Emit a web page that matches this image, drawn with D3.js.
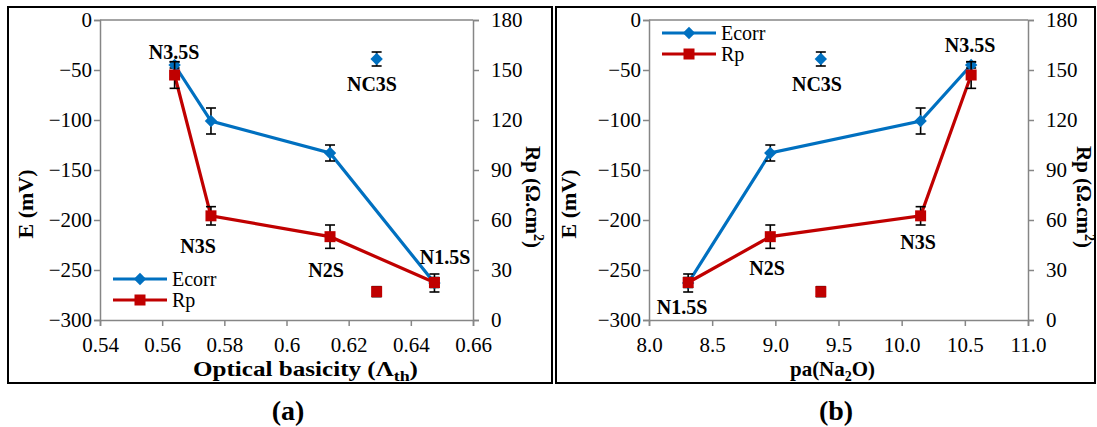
<!DOCTYPE html>
<html>
<head>
<meta charset="utf-8">
<script src="https://cdn.jsdelivr.net/npm/d3@7"></script>
<style>
  body { margin: 0; background: #fff; }
  svg text { font-family: 'Liberation Serif', serif; }
  .axis path, .axis line { stroke: #868686; stroke-width: 1.5; }
  .axis text { fill: #000; font-size: 21px; }
  .axis_label { font-size: 21px; font-weight: bold; }
  .pt_label { font-size: 20px; font-weight: bold; }
</style>
</head>
<body>
<div id="chart"></div>
<script>
// ---- data ----
var samples = ["N1.5S", "N2S", "N3S", "N3.5S"];
var basicity = [0.6476, 0.614, 0.5757, 0.564];      // optical basicity (panel a)
var paNa2O = [8.31, 8.96, 10.15, 10.55];              // pa(Na2O) (panel b)
var ecorr = [-263, -133, -101, -45];
var ecorrErr = [9, 8, 13, 3];
var rp = [22.5, 50, 62.5, 147];
var rpErr = [3, 7, 5.5, 8];

// NC3S, drawn as lone points
var nc3sBasicity = 0.629;
var nc3sPa = 9.36;
var nc3sEcorr = -39;
var nc3sEcorrErr = 7;
var nc3sRp = 17;
var nc3sRpErr = 3;

var leftTicks = [0, -50, -100, -150, -200, -250, -300];
var rightTicks = [0, 30, 60, 90, 120, 150, 180];
var basicityTicks = [0.54, 0.56, 0.58, 0.6, 0.62, 0.64, 0.66];
var paTicks = [8.0, 8.5, 9.0, 9.5, 10.0, 10.5, 11.0];

var blue = "#0070C0";
var red = "#C00000";
var serif = "'Liberation Serif', serif";

var svg = d3.select("#chart")
    .append("svg")
        .attr("width", 1097)
        .attr("height", 427)
        .attr("font-family", serif);

function drawPanel(opt){
    var g = svg.append("g");

    // panel frame
    g.append("rect")
        .attr("x", opt.frame[0]).attr("y", 7)
        .attr("width", opt.frame[1] - opt.frame[0]).attr("height", 376)
        .attr("fill", "none").attr("stroke", "#000").attr("stroke-width", 2);

    var x = d3.scaleLinear().domain(opt.xDomain).range([opt.left, opt.right]);
    var yE = d3.scaleLinear().domain([-300, 0]).range([320, 20]);
    var yR = d3.scaleLinear().domain([0, 180]).range([320, 20]);

    // top border of plot area
    g.append("line")
        .attr("x1", opt.left).attr("x2", opt.right)
        .attr("y1", 20).attr("y2", 20)
        .attr("stroke", "#868686").attr("stroke-width", 1.5);

    g.append("g")
        .attr("class", "axis")
        .attr("transform", "translate(0,320)")
        .call(d3.axisBottom(x).tickValues(opt.xTicks).tickSize(6).tickPadding(11).tickFormat(opt.xFormat));

    g.append("g")
        .attr("class", "axis")
        .attr("transform", "translate(" + opt.left + ",0)")
        .call(d3.axisLeft(yE).tickValues(leftTicks).tickSize(6).tickPadding(2).tickFormat(d3.format("d")));

    g.append("g")
        .attr("class", "axis")
        .attr("transform", "translate(" + opt.right + ",0)")
        .call(d3.axisRight(yR).tickValues(rightTicks).tickSize(6).tickPadding(12).tickFormat(d3.format("d")));

    // d3 puts sans-serif on axis groups; use the serif face instead
    g.selectAll(".axis").attr("font-family", serif).attr("font-size", 21);
    g.selectAll(".axis text").style("font-family", serif);

    var pts = samples.map(function(s, i){
        return {name: s, x: opt.xs[i], e: ecorr[i], ee: ecorrErr[i], r: rp[i], re: rpErr[i]};
    }).sort(function(a, b){ return a.x - b.x; });

    var diamond = "M0,-6.2L6.2,0L0,6.2L-6.2,0Z";

    //////////// Ecorr ////////////
    var eline = d3.line()
        .x(function(d) { return x(d.x); })
        .y(function(d) { return yE(d.e); });
    g.append("path")
        .datum(pts)
        .attr("d", eline)
        .attr("fill", "none").attr("stroke", blue).attr("stroke-width", 3.2);

    var eAll = pts.map(function(d){ return {x: d.x, v: d.e, err: d.ee}; })
        .concat([{x: opt.ncX, v: nc3sEcorr, err: nc3sEcorrErr}]);
    errorBars(g, eAll, x, yE);
    g.selectAll(".emark")
        .data(eAll)
        .enter().append("path")
        .attr("d", diamond)
        .attr("transform", function(d){ return "translate(" + x(d.x) + "," + yE(d.v) + ")"; })
        .attr("fill", blue);

    //////////// Rp ////////////
    var rline = d3.line()
        .x(function(d) { return x(d.x); })
        .y(function(d) { return yR(d.r); });
    g.append("path")
        .datum(pts)
        .attr("d", rline)
        .attr("fill", "none").attr("stroke", red).attr("stroke-width", 3.2);

    var rAll = pts.map(function(d){ return {x: d.x, v: d.r, err: d.re}; })
        .concat([{x: opt.ncX, v: nc3sRp, err: nc3sRpErr}]);
    errorBars(g, rAll, x, yR);
    g.selectAll(".rmark")
        .data(rAll)
        .enter().append("rect")
        .attr("x", function(d){ return x(d.x) - 5.5; })
        .attr("y", function(d){ return yR(d.v) - 5.5; })
        .attr("width", 11).attr("height", 11)
        .attr("fill", red);

    //// point labels ////
    opt.labels.forEach(function(l){
        g.append("text")
            .attr("class", "pt_label")
            .attr("x", l[1]).attr("y", l[2])
            .attr("text-anchor", "middle")
            .style("font-family", serif)
            .text(l[0]);
    });

    //// legend ////
    [["Ecorr", blue, 0], ["Rp", red, 1]].forEach(function(s){
        var ly = opt.legend[1] + s[2] * 21;
        g.append("line")
            .attr("x1", opt.legend[0]).attr("x2", opt.legend[0] + 54)
            .attr("y1", ly).attr("y2", ly)
            .attr("stroke", s[1]).attr("stroke-width", 3.2);
        if (s[2] == 0) {
            g.append("path").attr("d", diamond)
                .attr("transform", "translate(" + (opt.legend[0] + 27) + "," + ly + ")")
                .attr("fill", s[1]);
        } else {
            g.append("rect")
                .attr("x", opt.legend[0] + 21.5).attr("y", ly - 5.5)
                .attr("width", 11).attr("height", 11).attr("fill", s[1]);
        }
        g.append("text")
            .attr("x", opt.legend[0] + 59).attr("y", ly + 7)
            .style("font-size", "20px")
            .style("font-family", serif)
            .text(s[0]);
    });

    //// axis titles ////
    var xt = g.append("text")
        .attr("class", "axis_label")
        .attr("x", opt.xTitle[0]).attr("y", 376)
        .style("font-family", serif)
        .style("font-size", opt.xTitle[2] + "px")
        .attr("textLength", opt.xTitle[1])
        .attr("lengthAdjust", "spacingAndGlyphs");
    opt.xTitle[3](xt);

    g.append("text")
        .attr("class", "axis_label")
        .attr("transform", "translate(" + opt.eTitleX + ",204) rotate(-90)")
        .attr("text-anchor", "middle")
        .style("font-family", serif)
        .style("font-size", "22px")
        .text("E (mV)");

    var rt = g.append("text")
        .attr("class", "axis_label")
        .attr("transform", "translate(" + opt.rTitleX + ",197) rotate(90)")
        .attr("text-anchor", "middle")
        .style("font-family", serif);
    rt.append("tspan").text("Rp (\u03A9.cm");
    rt.append("tspan").attr("dy", -8).style("font-size", "14px").text("2");
    rt.append("tspan").attr("dy", 8).text(")");

    g.append("text")
        .attr("x", opt.tag[0]).attr("y", 420)
        .attr("text-anchor", "middle")
        .style("font-size", "28px").style("font-weight", "bold")
        .style("font-family", serif)
        .text(opt.tag[1]);
}

function errorBars(g, data, x, y){
    var eb = g.append("g").attr("stroke", "#000").attr("stroke-width", 1.6);
    data.forEach(function(d){
        var cx = x(d.x), y1 = y(d.v + d.err), y2 = y(d.v - d.err);
        eb.append("line").attr("x1", cx).attr("x2", cx).attr("y1", y1).attr("y2", y2);
        eb.append("line").attr("x1", cx - 5).attr("x2", cx + 5).attr("y1", y1).attr("y2", y1);
        eb.append("line").attr("x1", cx - 5).attr("x2", cx + 5).attr("y1", y2).attr("y2", y2);
    });
}

// panel (a)
drawPanel({
    frame: [8, 552],
    left: 100, right: 473,
    xDomain: [0.54, 0.66],
    xTicks: basicityTicks,
    xFormat: function(d){ return String(+d.toFixed(2)); },
    xs: basicity,
    ncX: nc3sBasicity,
    labels: [["N3.5S", 174, 59], ["NC3S", 372, 91], ["N3S", 198, 253], ["N2S", 326, 277], ["N1.5S", 445, 264]],
    legend: [113, 279],
    xTitle: [193, 225, 21, function(t){
        t.append("tspan").text("Optical basicity (\u039B");
        t.append("tspan").attr("dy", 5).style("font-size", "15px").text("th");
        t.append("tspan").attr("dy", -5).text(")");
    }],
    eTitleX: 33,
    rTitleX: 526,
    tag: [288, "(a)"]
});

// panel (b)
drawPanel({
    frame: [556, 1095],
    left: 649, right: 1028,
    xDomain: [8.0, 11.0],
    xTicks: paTicks,
    xFormat: d3.format(".1f"),
    xs: paNa2O,
    ncX: nc3sPa,
    labels: [["N3.5S", 970, 52], ["NC3S", 817, 91], ["N3S", 918, 249], ["N2S", 767, 275], ["N1.5S", 682, 314]],
    legend: [662, 33],
    xTitle: [790, 85, 21, function(t){
        t.append("tspan").text("pa(Na");
        t.append("tspan").attr("dy", 5).style("font-size", "14px").text("2");
        t.append("tspan").attr("dy", -5).text("O)");
    }],
    eTitleX: 576,
    rTitleX: 1077,
    tag: [836, "(b)"]
});
</script>
</body>
</html>
